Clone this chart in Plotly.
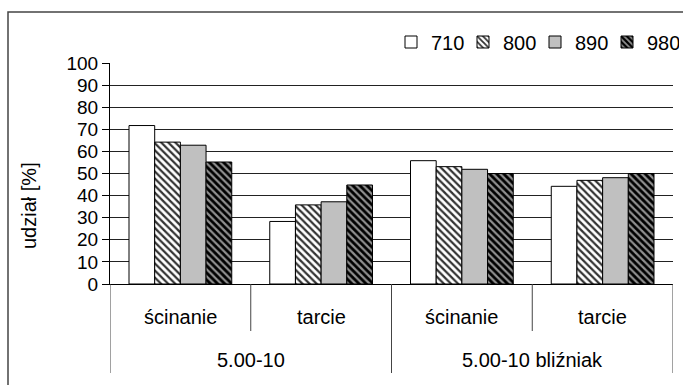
import plotly.graph_objects as go

outer = ["5.00-10", "5.00-10", "5.00-10 bliźniak", "5.00-10 bliźniak"]
inner = ["ścinanie", "tarcie", "ścinanie", "tarcie"]
series_names = ["710", "800", "890", "980"]
v710 = [71.7, 28.3, 55.8, 44.2]
v800 = [64.2, 35.8, 53.1, 46.9]
v890 = [62.8, 37.2, 51.9, 48.1]
v980 = [55.2, 44.8, 50.0, 50.0]
yticks = list(range(0, 101, 10))
y_title = "udział [%]"

values = [v710, v800, v890, v980]
styles = [
    dict(color="white", pattern=None),
    dict(color="white", pattern=dict(shape="\\", fgcolor="#333333", bgcolor="white", size=5, solidity=0.45, fillmode="replace")),
    dict(color="#c0c0c0", pattern=None),
    dict(color="#808080", pattern=dict(shape="\\", fgcolor="#000000", bgcolor="#909090", size=5, solidity=0.55, fillmode="replace")),
]

FONT = "Liberation Sans, Arial, sans-serif"
FS_TICK = 19
FS_LAB = 20
cats = [f"{o} | {i}" for o, i in zip(outer, inner)]

fig = go.Figure()
for name, vals, st in zip(series_names, values, styles):
    marker = dict(color=st["color"], line=dict(color="black", width=1))
    if st["pattern"]:
        marker["pattern"] = st["pattern"]
    fig.add_trace(go.Bar(x=cats, y=vals, name=name, marker=marker))

W, H = 683, 385
L, R, T, B = 110, 10, 63, 101
pw, ph = W - L - R, H - T - B

def px_x(px):
    return (px - L) / pw

def px_y(py):
    return (H - B - py) / ph

# outer frame
fig.add_shape(type="rect", xref="paper", yref="paper",
              x0=px_x(8), x1=px_x(W + 5), y0=px_y(H + 5), y1=px_y(12),
              line=dict(color="#444444", width=1.5), layer="below")

n = len(cats)
for k in range(n + 1):
    pos = k - 0.5
    is_outer = (k == 0) or (k == n) or (outer[k - 1] != outer[k])
    fig.add_shape(type="line", xref="x", yref="paper", x0=pos, x1=pos,
                  y0=0, y1=px_y(373) if is_outer else px_y(331),
                  line=dict(color="#444444", width=1))

# inner labels
for k, lab in enumerate(inner):
    fig.add_annotation(x=k, y=px_y(317), xref="x", yref="paper", text=lab,
                       showarrow=False, font=dict(size=FS_LAB, family=FONT), yanchor="middle")
# outer labels
groups = []
for k, o in enumerate(outer):
    if not groups or groups[-1][0] != o:
        groups.append([o, k, k])
    else:
        groups[-1][2] = k
for o, a, b in groups:
    fig.add_annotation(x=(a + b) / 2, y=px_y(360), xref="x", yref="paper", text=o,
                       showarrow=False, font=dict(size=FS_LAB, family=FONT), yanchor="middle")

# y title
fig.add_annotation(x=px_x(29), y=px_y(206), xref="paper", yref="paper", text=y_title, textangle=-90,
                   showarrow=False, font=dict(size=FS_LAB, family=FONT), xanchor="center", yanchor="middle")

fig.update_layout(
    width=W, height=H,
    margin=dict(l=L, r=R, t=T, b=B, autoexpand=False),
    paper_bgcolor="white", plot_bgcolor="white",
    barmode="group", bargap=0.27, bargroupgap=0,
    font=dict(family=FONT, size=FS_TICK, color="black"),
    legend=dict(orientation="h", xref="container", yref="container",
                x=391 / W, xanchor="left", y=1 - 42 / H, yanchor="middle",
                font=dict(size=FS_LAB), entrywidth=27, entrywidthmode="pixels",
                tracegroupgap=0, bgcolor="rgba(0,0,0,0)"),
    showlegend=True,
)
fig.update_yaxes(range=[0, 100], tickvals=yticks, ticks="outside", ticklen=7, tickcolor="black",
                 showline=True, linecolor="black", linewidth=1, showgrid=True, gridcolor="#222222",
                 gridwidth=1, zeroline=False, tickfont=dict(size=FS_TICK))
fig.update_xaxes(type="category", range=[-0.5, n - 0.5], showline=True, linecolor="black",
                 linewidth=1, showticklabels=False, ticks="", showgrid=False)

fig.write_html("out.html")
